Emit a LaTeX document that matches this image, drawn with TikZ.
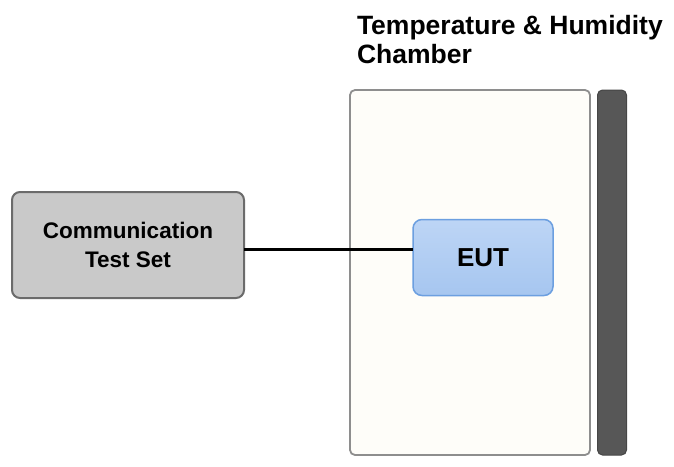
\documentclass[tikz,border=0pt]{standalone}
\usepackage{fontspec}
\setmainfont{Liberation Sans}
\usepackage{xcolor}
\usepackage{tikz}

\definecolor{boxgray}{HTML}{C9C9C9}
\definecolor{boxedge}{HTML}{6B6B6B}
\definecolor{chamberfill}{HTML}{FEFDF9}
\definecolor{chamberedge}{HTML}{8E8E8E}
\definecolor{doorgray}{HTML}{575757}
\definecolor{euttop}{HTML}{BDD5F5}
\definecolor{eutbot}{HTML}{A6C6F0}
\definecolor{eutedge}{HTML}{6C9FE0}

\begin{document}
\begin{tikzpicture}[x=1pt, y=-1pt, inner sep=0pt, outer sep=0pt]
    \useasboundingbox (0,0) rectangle (674,466);

    % chamber and its door
    \node[draw=chamberedge, line width=1.8pt, fill=chamberfill, rounded corners=5pt,
          minimum width=240pt, minimum height=365pt] (chamber) at (470, 272.5) {};
    \node[draw=doorgray!80!black, line width=1pt, fill=doorgray, rounded corners=5pt,
          minimum width=29pt, minimum height=365pt] (door) at (612, 272.5) {};
    \node[anchor=north west, align=left, font=\bfseries\fontsize{26.5}{29}\selectfont] (title) at (357, 15)
        {Temperature \& Humidity\\Chamber};

    % test set and EUT
    \node[draw=boxedge, line width=2pt, fill=boxgray, rounded corners=8pt,
          minimum width=232pt, minimum height=106pt, align=center,
          font=\bfseries\fontsize{22.5}{29}\selectfont] (cts) at (128, 245) {Communication\\Test Set};
    \node[draw=eutedge, line width=1.5pt, top color=euttop, bottom color=eutbot, rounded corners=9pt,
          minimum width=140pt, minimum height=76pt,
          font=\bfseries\fontsize{26}{28}\selectfont] (eut) at (483, 257.5) {EUT};

    \draw[line width=3pt] ([yshift=-4pt]cts.east) -- ([yshift=8.5pt]eut.west);
\end{tikzpicture}
\end{document}
